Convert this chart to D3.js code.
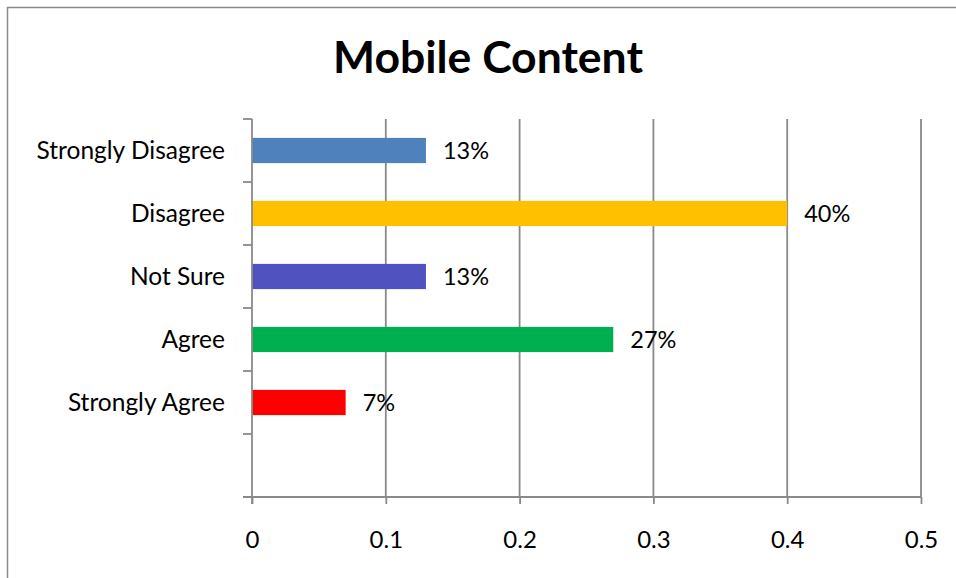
<!DOCTYPE html>
<html>
<head>
<meta charset="utf-8">
<script src="https://cdn.jsdelivr.net/npm/d3@7"></script>
<style>
  html, body { margin: 0; padding: 0; background: #fff; }
  svg { display: block; font-family: Lato, "Open Sans", sans-serif; }
</style>
</head>
<body>
<svg id="chart" width="956" height="578"></svg>
<script>
// Survey responses: share of respondents per answer
const categories = ["Strongly Disagree", "Disagree", "Not Sure", "Agree", "Strongly Agree"];
const values = [0.13, 0.40, 0.13, 0.27, 0.07];
const valueLabels = ["13%", "40%", "13%", "27%", "7%"];
const barColors = ["#4F81BD", "#FFC000", "#5053BF", "#00B050", "#FF0000"];
const xTicks = [0, 0.1, 0.2, 0.3, 0.4, 0.5];
const title = "Mobile Content";

const svg = d3.select("#chart");
const W = 956, H = 578;
const plot = { left: 252, right: 921, top: 119, bottom: 497 };
const gridColor = "#898989";

// outer chart frame
svg.append("rect")
  .attr("x", 7.5).attr("y", 7.5)
  .attr("width", W + 10).attr("height", H + 10)
  .attr("fill", "none").attr("stroke", "#8a8a8a").attr("stroke-width", 1.5);

svg.append("text")
  .attr("x", 488).attr("y", 73)
  .attr("text-anchor", "middle")
  .attr("font-size", 44.5).attr("font-weight", 700)
  .attr("fill", "#000")
  .text(title);

const x = d3.scaleLinear().domain([0, 0.5]).range([plot.left, plot.right]);

// one empty slot below the last answer, as in the original layout
const slots = categories.concat([""]);
const y = d3.scaleBand().domain(slots).range([plot.top, plot.bottom])
  .paddingInner(0.6).paddingOuter(0.3);
const step = y.step();
const bandTop = d => y(d) - y.paddingOuter() * step;

// vertical gridlines
svg.append("g").selectAll("line")
  .data(xTicks.filter(t => t > 0))
  .join("line")
  .attr("x1", d => x(d)).attr("x2", d => x(d))
  .attr("y1", plot.top).attr("y2", plot.bottom)
  .attr("stroke", gridColor).attr("stroke-width", 1.8);

// bars
svg.append("g").selectAll("rect")
  .data(categories)
  .join("rect")
  .attr("x", x(0))
  .attr("y", d => y(d))
  .attr("width", (d, i) => x(values[i]) - x(0))
  .attr("height", y.bandwidth())
  .attr("fill", (d, i) => barColors[i]);

// value labels
svg.append("g").selectAll("text")
  .data(categories)
  .join("text")
  .attr("x", (d, i) => x(values[i]) + 17)
  .attr("y", d => y(d) + y.bandwidth() / 2 + 8.5)
  .attr("font-size", 23.5)
  .attr("fill", "#000")
  .text((d, i) => valueLabels[i]);

// x axis
const xAxis = d3.axisBottom(x).tickValues(xTicks).tickSize(7).tickPadding(27)
  .tickFormat(d => d === 0 ? "0" : d3.format(".1f")(d));
const gx = svg.append("g").attr("transform", `translate(0,${plot.bottom})`).call(xAxis);
gx.select(".domain").remove();
gx.append("line").attr("x1", plot.left - 9).attr("x2", plot.right)
  .attr("stroke", gridColor).attr("stroke-width", 1.8);
gx.selectAll(".tick line").attr("stroke", gridColor).attr("stroke-width", 1.8);
gx.selectAll(".tick text").attr("font-size", 24).attr("fill", "#000")
  .attr("font-family", "Lato, 'Open Sans', sans-serif");

// y axis: line with ticks at band boundaries, labels at band centers
const gy = svg.append("g");
gy.append("line").attr("x1", plot.left).attr("x2", plot.left)
  .attr("y1", plot.top).attr("y2", plot.bottom + 7)
  .attr("stroke", gridColor).attr("stroke-width", 1.8);
gy.selectAll("line.tick")
  .data(slots)
  .join("line").attr("class", "tick")
  .attr("x1", plot.left - 9).attr("x2", plot.left)
  .attr("y1", d => bandTop(d)).attr("y2", d => bandTop(d))
  .attr("stroke", gridColor).attr("stroke-width", 1.8);
gy.selectAll("text")
  .data(categories)
  .join("text")
  .attr("x", 225)
  .attr("y", d => y(d) + y.bandwidth() / 2 + 8.5)
  .attr("text-anchor", "end")
  .attr("font-size", 24.5)
  .attr("fill", "#000")
  .text(d => d);
</script>
</body>
</html>
